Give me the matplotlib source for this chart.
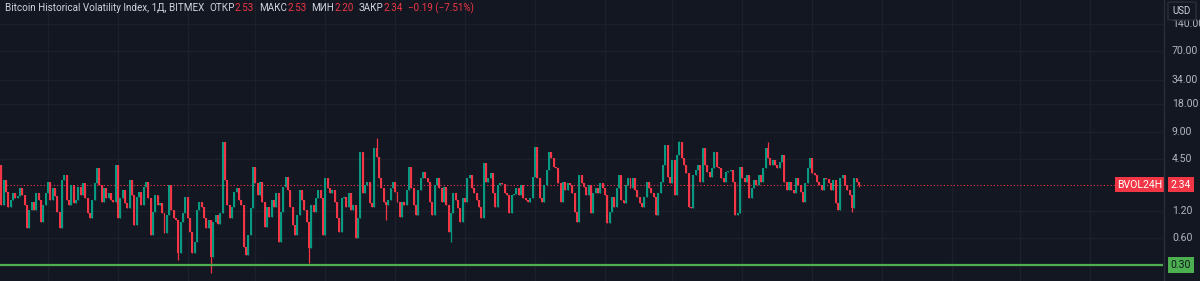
import numpy as np
import matplotlib.pyplot as plt
import matplotlib.transforms as mtransforms
from matplotlib.patches import FancyBboxPatch

# BVOL24H daily closes
closes = [
    1.39, 2.63, 1.94, 1.32, 1.58, 1.89, 1.66, 1.75, 2.15, 1.79,
    1.39, 0.77, 1.23, 1.50, 1.23, 1.89, 1.58, 0.91, 1.39, 1.89,
    2.50, 1.58, 2.15, 1.75, 1.17, 0.77, 2.63, 2.99, 1.58, 1.39,
    2.32, 1.46, 1.58, 2.20, 1.79, 2.44, 1.66, 1.14, 1.00, 1.58,
    2.44, 3.57, 2.32, 1.50, 2.15, 1.66, 1.89, 1.58, 1.50, 3.85,
    1.00, 1.66, 2.04,
    1.46, 1.29, 2.63, 1.79, 0.835, 1.71, 1.94, 1.39, 2.20, 2.50,
    1.66, 0.65, 1.17, 1.79, 1.39, 1.46, 1.14, 0.68, 1.08, 2.32,
    1.23, 1.00, 0.95, 0.41, 0.91, 1.14, 1.71, 1.00, 0.70, 0.41,
    0.54, 1.23, 1.50, 1.32, 1.00, 0.77, 0.95, 0.37, 0.91, 1.08,
    0.86, 1.14, 6.92, 2.63, 1.39, 1.00, 1.32, 1.94, 2.15, 1.58,
    1.39, 0.48, 0.39,
    0.65, 1.29, 3.66, 2.44, 1.79, 2.50, 1.50, 0.79, 1.32, 1.03,
    1.58, 1.32, 1.89, 0.54, 1.17, 2.20, 2.84, 2.04, 1.32, 0.835,
    0.65, 1.08, 2.04, 1.58, 1.23, 0.91, 0.47, 1.39, 1.17, 1.66,
    2.04, 1.66, 0.65, 2.77, 2.15, 1.89, 2.04, 1.50, 1.00, 0.70,
    1.66, 1.71, 1.32, 1.89, 1.23, 1.39, 0.60, 1.00, 5.37, 1.89,
    2.32, 2.50,
    1.46, 1.32, 5.94, 4.73, 2.77, 2.15, 1.50, 1.39, 1.58, 2.15,
    2.50, 1.94, 1.50, 1.03, 1.50, 1.39, 2.04, 3.66, 2.15, 1.39,
    1.08, 2.04, 2.77, 3.22, 2.77, 2.50, 1.50, 1.08, 2.32, 2.77,
    2.15, 1.50, 2.20, 1.39, 0.70, 1.14, 1.89, 1.58, 1.29, 0.91,
    1.66, 1.50, 2.77, 2.99, 2.15, 1.89, 1.58, 1.32, 1.00, 4.05,
    2.50,
    2.77, 3.14, 1.89, 1.32, 2.32, 2.44, 2.40, 1.89, 1.79, 1.14,
    1.79, 1.85, 2.15, 1.79, 2.32, 1.66, 1.58, 1.50, 1.66, 2.84,
    6.10, 2.77, 1.66, 1.50, 2.32, 3.39, 5.37, 4.61, 3.66, 3.55,
    2.44, 1.50, 2.50, 2.04, 2.44, 2.32, 1.89, 1.17, 0.91, 2.99,
    2.44, 2.20, 1.79, 2.32, 1.14, 1.89, 2.15, 1.89, 2.44, 2.15,
    1.79, 0.88, 1.17,
    1.71, 1.32, 2.15, 2.99, 1.58, 1.46, 2.32, 2.77, 2.15, 2.77,
    2.04, 1.71, 1.46, 1.32, 1.71, 2.50, 2.15, 1.89, 1.71, 1.08,
    1.89, 2.50, 3.85, 6.42, 2.84, 2.44, 4.37, 1.79, 4.97, 6.92,
    4.61, 3.85, 3.14, 1.32, 1.29, 2.99, 3.39, 3.85, 2.50, 5.94,
    3.85, 3.22, 2.84, 3.57, 5.37, 3.66, 3.57, 2.77, 2.50, 3.22,
    3.30, 3.39, 2.50, 1.08,
    1.14, 3.66, 2.77, 2.50, 2.99, 1.66, 2.15, 2.63, 2.32, 2.99,
    2.50, 3.57, 5.94, 4.61, 3.85, 4.37, 3.85, 3.57, 4.16, 4.97,
    2.50, 2.04, 2.50, 2.04, 1.89, 2.77, 2.32, 1.94, 1.50, 2.44,
    3.57, 4.61, 3.14, 2.99, 2.50, 2.32, 2.04, 2.77, 2.70, 2.44,
    2.04, 2.63, 1.46, 1.23, 2.77, 2.99, 2.32, 2.04, 1.79, 1.29,
    2.77, 2.53, 2.34,
]
first_open = 3.85
# wicks that stick out of the bodies (candle index -> price)
low_wicks = {76: 0.34, 90: 0.245, 132: 0.32, 165: 0.95, 193: 0.54, 365: 1.17, 368: 2.20}
high_wicks = {161: 7.67, 291: 7.10, 329: 6.92}

price_ticks = [0.3, 0.6, 1.2, 4.5, 9, 18, 34, 70, 140]
last_price = 2.34
level_price = 0.30
month_lines = [20, 50, 80, 109, 139, 169, 199, 229, 259, 288, 318, 348, 378, 408, 437, 467]

# (text, colour, gap before in px)
legend_parts = [
    ("Bitcoin Historical Volatility Index, 1Д, BITMEX", "#d1d4dc", 0),
    ("ОТКР", "#d1d4dc", 5), ("2.53", "#f23645", 0),
    ("МАКС", "#d1d4dc", 5), ("2.53", "#f23645", 0),
    ("МИН", "#d1d4dc", 5), ("2.20", "#f23645", 0),
    ("ЗАКР", "#d1d4dc", 5), ("2.34", "#f23645", 0),
    ("\u22120.19 (\u22127.51%)", "#f23645", 5),
]

BG = "#131722"
GRID = "#1c202b"
UP = "#089981"
DOWN = "#f23645"
TXT = "#b2b5be"

plt.rcParams['font.family'] = ['Roboto', 'DejaVu Sans']

closes = np.array(closes)
opens = np.concatenate([[first_open], closes[:-1]])
highs = np.maximum(opens, closes)
lows = np.minimum(opens, closes)
for i, v in low_wicks.items():
    lows[i] = v
for i, v in high_wicks.items():
    highs[i] = v
x = np.arange(len(closes))
up = closes >= opens
cols = np.where(up, UP, DOWN)

fig = plt.figure(figsize=(12, 2.81), dpi=100, facecolor=BG)
ax = fig.add_axes([0, 0, 1163 / 1200, 1])
ax.set_facecolor(BG)
ax.set_yscale('log')
ax.set_ylim(0.2005, 258)
ax.set_xlim(-0.6, -0.6 + 1163 / 2.33)

for p in price_ticks:
    ax.axhline(p, color=GRID, lw=1, zorder=0)
for m in month_lines:
    ax.axvline(m, color=GRID, lw=1, zorder=0)

ax.vlines(x, lows, highs, colors=cols, lw=0.9, zorder=2)
ax.bar(x, np.abs(closes - opens), bottom=np.minimum(opens, closes),
       width=0.85, color=cols, linewidth=0, zorder=3)

ax.axhline(last_price, color=DOWN, lw=0.8, ls=(0, (1, 2)), zorder=1)
ax.axhline(level_price, color="#4caf50", lw=1.6, zorder=4)

for s in ax.spines.values():
    s.set_visible(False)
ax.set_xticks([])
ax.set_yticks([])
ax.minorticks_off()

# right price scale
trans = mtransforms.blended_transform_factory(ax.transAxes, ax.transData)
fig.add_artist(plt.Line2D([1163.5 / 1200] * 2, [0, 1], color="#2a2e39", lw=1))
for p in price_ticks:
    ax.text(1172 / 1163, p, f"{p:.2f}", transform=trans, ha='left', va='center',
            fontsize=7.6, color=TXT, clip_on=False)

ax.text(1181 / 1163, last_price, f"{last_price:.2f}", transform=trans, ha='center', va='center',
        fontsize=7.6, color='white', clip_on=False,
        bbox=dict(boxstyle='square,pad=0.25', fc=DOWN, ec='none'))
ax.text(1140 / 1163, last_price, "BVOL24H", transform=trans, ha='center', va='center',
        fontsize=7.6, color='white', clip_on=False,
        bbox=dict(boxstyle='square,pad=0.25', fc=DOWN, ec='none'))
ax.text(1181 / 1163, level_price, f"{level_price:.2f}", transform=trans, ha='center', va='center',
        fontsize=7.6, color='#131722', clip_on=False,
        bbox=dict(boxstyle='square,pad=0.3', fc='#4caf50', ec='none'))

# USD button (covers the top of the 140.00 label like in the terminal)
fig.add_artist(FancyBboxPatch((1168 / 1200, 1 - 20 / 281), 28 / 1200, 18 / 281,
                              boxstyle='round,pad=0,rounding_size=0.003',
                              transform=fig.transFigure, fc=BG, ec="#2a2e39", lw=1, zorder=10))
fig.text(1182 / 1200, 1 - 11 / 281, "USD", ha='center', va='center', fontsize=7,
         color='#d1d4dc', zorder=11)

# legend line, laid out piece by piece
renderer = fig.canvas.get_renderer()
cur = 5
for txt, c, gap in legend_parts:
    cur += gap
    t = fig.text(cur / 1200, 1 - 8 / 281, txt, ha='left', va='center', fontsize=7.1, color=c)
    cur += t.get_window_extent(renderer).width

fig.savefig("out.png", dpi=100, facecolor=BG)
